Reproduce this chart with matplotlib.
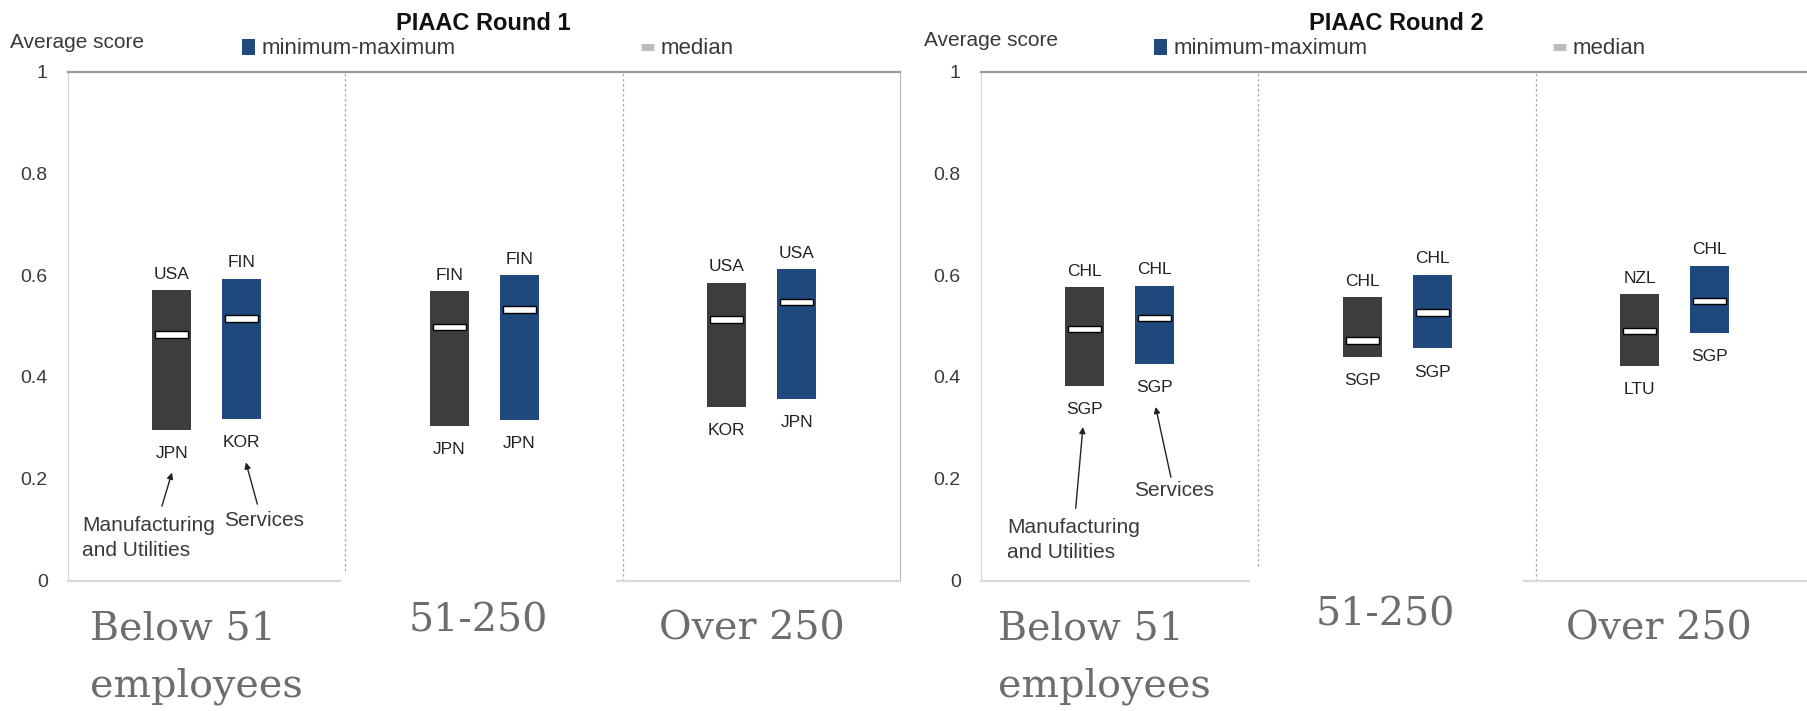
import matplotlib
matplotlib.use("Agg")
import matplotlib.pyplot as plt
from matplotlib.patches import Rectangle, Patch
from matplotlib.lines import Line2D
from matplotlib.transforms import blended_transform_factory

# ---------------- data ----------------
size_classes = ["Below 51\nemployees", "51-250", "Over 250"]
panel_titles = ["PIAAC Round 1", "PIAAC Round 2"]
yticks = [0, 0.2, 0.4, 0.6, 0.8, 1]
ytick_labels = ["0", "0.2", "0.4", "0.6", "0.8", "1"]

r1_manuf_min = [0.295, 0.303, 0.341]
r1_manuf_max = [0.570, 0.568, 0.585]
r1_manuf_med = [0.483, 0.498, 0.513]
r1_serv_min = [0.317, 0.316, 0.356]
r1_serv_max = [0.593, 0.600, 0.612]
r1_serv_med = [0.515, 0.533, 0.547]
r1_manuf_max_cty = ["USA", "FIN", "USA"]
r1_manuf_min_cty = ["JPN", "JPN", "KOR"]
r1_serv_max_cty = ["FIN", "FIN", "USA"]
r1_serv_min_cty = ["KOR", "JPN", "JPN"]

r2_manuf_min = [0.383, 0.440, 0.421]
r2_manuf_max = [0.576, 0.557, 0.562]
r2_manuf_med = [0.494, 0.471, 0.490]
r2_serv_min = [0.425, 0.456, 0.486]
r2_serv_max = [0.579, 0.601, 0.618]
r2_serv_med = [0.516, 0.526, 0.549]
r2_manuf_max_cty = ["CHL", "CHL", "NZL"]
r2_manuf_min_cty = ["SGP", "SGP", "LTU"]
r2_serv_max_cty = ["CHL", "CHL", "CHL"]
r2_serv_min_cty = ["SGP", "SGP", "SGP"]

# ---------------- style ----------------
DARK = "#3d3d3d"
BLUE = "#1f487c"
SANS = ["Liberation Sans", "DejaVu Sans"]
SERIF = ["DejaVu Serif"]
TXT = "#3a3a3a"
W, H = 1808, 711

fig = plt.figure(figsize=(W / 100, H / 100), dpi=100)
fig.patch.set_facecolor("white")


def fx(px):
    return px / W


def fy(py):
    return 1 - py / H


panels = [
    dict(left=68, title_x=483, avg=(10, 43),
         manuf=(r1_manuf_min, r1_manuf_max, r1_manuf_med, r1_manuf_max_cty, r1_manuf_min_cty),
         serv=(r1_serv_min, r1_serv_max, r1_serv_med, r1_serv_max_cty, r1_serv_min_cty),
         leg_x=242,
         notes=[("Manufacturing\nand Utilities", (-0.45, 0.083), (-0.1615, 0.146), (-0.1255, 0.212)),
                ("Services", (0.064, 0.117), (0.1824, 0.150), (0.141, 0.232))],
         cats=[(-0.42, 610, "left"), (0.98, 603, "center"), (1.963, 610, "center")],
         patch=(341, 616, 574)),
    dict(left=981, title_x=1396, avg=(924, 40),
         manuf=(r2_manuf_min, r2_manuf_max, r2_manuf_med, r2_manuf_max_cty, r2_manuf_min_cty),
         serv=(r2_serv_min, r2_serv_max, r2_serv_med, r2_serv_max_cty, r2_serv_min_cty),
         leg_x=1154,
         notes=[("Manufacturing\nand Utilities", (-0.406, 0.079), (-0.1587, 0.142), (-0.1327, 0.3015)),
                ("Services", (0.051, 0.176), (0.1843, 0.203), (0.1293, 0.341))],
         cats=[(-0.44, 610, "left"), (0.958, 597, "center"), (1.941, 610, "center")],
         patch=(1250, 1523, 568)),
]

SEC_W = 277.5
BAR_OFF = 0.126
BAR_W = 0.142
MED_W = 0.119
MED_H = 0.013

for i, p in enumerate(panels):
    ax = fig.add_axes([fx(p["left"]), fy(580.5), fx(3 * SEC_W), 509 / H])
    ax.set_xlim(-0.5, 2.5)
    ax.set_ylim(0, 1)
    ax.set_xticks([])
    ax.set_yticks(yticks)
    ax.set_yticklabels(ytick_labels, family=SANS, fontsize=14, color=TXT)
    ax.tick_params(axis="y", length=0, pad=14.5)
    ax.spines["top"].set_color("#9a9a9a")
    ax.spines["top"].set_linewidth(1.6)
    ax.spines["left"].set_color("#d6d6d6")
    ax.spines["right"].set_color("#b5b5b5")
    ax.spines["bottom"].set_color("#d9d9d9")
    ax.spines["bottom"].set_linewidth(1.6)
    for xv in (0.5, 1.5):
        ax.axvline(xv, color="#a8a8a8", lw=0.9, ls=(0, (2, 2)))

    xs = list(range(len(size_classes)))
    for (vals, off, col) in ((p["manuf"], -BAR_OFF, DARK), (p["serv"], BAR_OFF, BLUE)):
        vmin, vmax, vmed, cmax, cmin = vals
        bx = [x + off for x in xs]
        ax.bar(bx, [hi - lo for hi, lo in zip(vmax, vmin)], bottom=vmin,
               width=BAR_W, color=col, edgecolor="none", zorder=3)
        ax.bar(bx, [MED_H] * len(vmed), bottom=[m - MED_H / 2 for m in vmed],
               width=MED_W, color="white", edgecolor="black", linewidth=1.0, zorder=4)
        for x, hi, lo, ch, cl in zip(bx, vmax, vmin, cmax, cmin):
            ax.annotate(ch, (x, hi), xytext=(0, 11.5), textcoords="offset points",
                        ha="center", va="center", fontsize=12.5, family=SANS, color="#222222")
            ax.annotate(cl, (x, lo), xytext=(0, -17), textcoords="offset points",
                        ha="center", va="center", fontsize=12.5, family=SANS, color="#222222")

    for txt, tpos, tail, head in p["notes"]:
        ax.text(tpos[0], tpos[1], txt, ha="left", va="center", fontsize=15,
                family=SANS, color=TXT, linespacing=1.4, zorder=6)
        ax.annotate("", xy=head, xytext=tail,
                    arrowprops=dict(arrowstyle="-|>", color="#222222", lw=1.0,
                                    mutation_scale=9, shrinkA=0, shrinkB=0))

    # titles and axis caption
    fig.text(fx(p["title_x"]), fy(23), panel_titles[i], ha="center",
             va="center", fontsize=17, fontweight="bold", family=SANS, color="#111111")
    fig.text(fx(p["avg"][0]), fy(p["avg"][1]), "Average score", ha="left", va="center",
             fontsize=15, family=SANS, color=TXT)

    handles = [Patch(facecolor=BLUE, edgecolor="none"),
               Line2D([], [], color="#bdbdbd", lw=5, solid_capstyle="butt")]
    leg = fig.legend(handles, ["minimum-maximum", "median"], ncol=2, frameon=False,
                     loc="center left", bbox_to_anchor=(fx(p["leg_x"]), fy(49)),
                     bbox_transform=fig.transFigure, borderpad=0, borderaxespad=0,
                     handlelength=0.6, handleheight=0.7, handletextpad=0.3,
                     columnspacing=8.3, prop={"family": SANS, "size": 16})
    for t in leg.get_texts():
        t.set_color(TXT)

    # white cover behind the middle category label (hides part of the frame)
    x0, x1, ytop = p["patch"]
    ax.add_patch(Rectangle((fx(x0), 0), fx(x1 - x0), (H - ytop) / H,
                           transform=fig.transFigure, facecolor="white",
                           edgecolor="none", zorder=5, clip_on=False))

    tr = blended_transform_factory(ax.transData, fig.transFigure)
    for (xc, ytop_txt, ha), lab in zip(p["cats"], size_classes):
        ax.text(xc, fy(ytop_txt), lab, transform=tr, ha=ha, va="top",
                fontsize=28.5, family=SERIF, color="#6d6d6d", linespacing=1.72,
                zorder=7, clip_on=False)

fig.savefig("out.png", dpi=100, facecolor="white")
